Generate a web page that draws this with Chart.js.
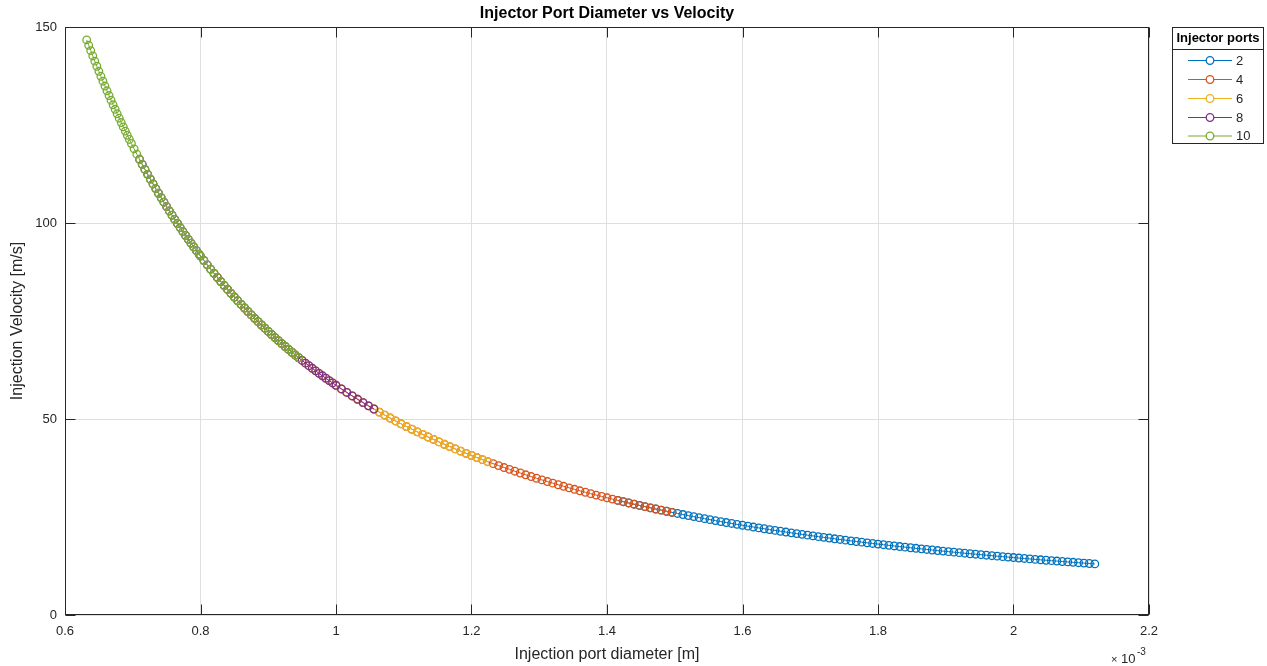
<!DOCTYPE html>
<html><head><meta charset="utf-8">
<script src="https://cdn.jsdelivr.net/npm/chart.js@4.4.1/dist/chart.umd.min.js"></script>
<style>html,body{margin:0;padding:0;background:#fff;overflow:hidden}canvas{display:block}</style>
</head><body>
<canvas id="c" width="1267" height="666"></canvas>
<script>
// Legend entries (number of injector ports) and their diameter ranges (x 10^-3 m)
const portCounts = [2, 4, 6, 8, 10];
const seriesColors = ['#0072BD', '#D95319', '#EDB120', '#7E2F8E', '#77AC30'];
const diameterMin = [1.414, 1.000, 0.816, 0.707, 0.632];
const diameterMax = [2.121, 1.500, 1.225, 1.061, 0.949];

// Points: injection port diameter (x 10^-3 m)
const diameter = [
0.632,0.635,0.638,0.641,0.644,0.647,0.650,0.653,0.656,0.659,0.662,0.665,0.668,0.671,0.674,0.677,0.680,0.683,0.686,0.689,0.692,0.695,0.698,
0.702,0.706,0.710,0.714,0.718,0.722,0.726,0.730,0.734,0.738,0.742,0.746,0.750,0.754,0.758,0.762,0.766,0.770,0.774,0.778,0.782,0.786,0.790,0.794,0.798,
0.800,0.805,0.810,0.815,0.820,0.825,0.830,0.835,0.840,0.845,0.850,0.855,0.860,0.865,0.870,0.875,0.880,0.885,0.890,0.895,
0.900,0.905,0.910,0.915,0.920,0.925,0.930,0.935,0.940,0.945,0.950,0.955,0.960,0.965,0.970,0.975,0.980,0.985,0.990,0.995,
1.000,1.008,1.016,1.024,1.032,1.040,1.048,1.056,1.064,1.072,
1.080,1.088,1.096,1.104,1.112,1.120,1.128,1.136,1.144,1.152,
1.160,1.168,1.176,1.184,1.192,1.200,1.208,1.216,1.224,1.232,
1.240,1.248,1.256,1.264,1.272,1.280,1.288,1.296,1.304,1.312,
1.320,1.328,1.336,1.344,1.352,1.360,1.368,1.376,1.384,1.392,
1.400,1.408,1.416,1.424,1.432,1.440,1.448,1.456,1.464,1.472,
1.480,1.488,1.496,1.504,1.512,1.520,1.528,1.536,1.544,1.552,
1.560,1.568,1.576,1.584,1.592,1.600,1.608,1.616,1.624,1.632,
1.640,1.648,1.656,1.664,1.672,1.680,1.688,1.696,1.704,1.712,
1.720,1.728,1.736,1.744,1.752,1.760,1.768,1.776,1.784,1.792,
1.800,1.808,1.816,1.824,1.832,1.840,1.848,1.856,1.864,1.872,
1.880,1.888,1.896,1.904,1.912,1.920,1.928,1.936,1.944,1.952,
1.960,1.968,1.976,1.984,1.992,2.000,2.008,2.016,2.024,2.032,
2.040,2.048,2.056,2.064,2.072,2.080,2.088,2.096,2.104,2.112,
2.120
];
// Injection velocity (m/s) at those diameters
const velocity = [
146.71,145.33,143.97,142.62,141.29,139.99,138.70,137.43,136.17,134.94,133.72,132.51,131.32,130.15,129.00,127.86,126.73,125.62,124.52,123.44,122.37,121.32,120.28,
118.91,117.57,116.25,114.95,113.67,112.41,111.18,109.96,108.77,107.59,106.44,105.30,104.18,103.08,101.99,100.92,99.87,98.84,97.82,96.81,95.83,94.85,93.89,92.95,92.02,
91.56,90.43,89.32,88.22,87.15,86.10,85.06,84.05,83.05,82.07,81.11,80.16,79.23,78.32,77.42,76.54,75.67,74.82,73.98,73.16,
72.35,71.55,70.77,69.99,69.24,68.49,67.75,67.03,66.32,65.62,64.93,64.25,63.59,62.93,62.28,61.64,61.02,60.40,59.79,59.19,
58.60,57.67,56.77,55.88,55.02,54.18,53.36,52.55,51.76,50.99,
50.24,49.50,48.78,48.08,47.39,46.72,46.06,45.41,44.78,44.16,
43.55,42.96,42.37,41.80,41.24,40.69,40.16,39.63,39.11,38.61,
38.11,37.62,37.15,36.68,36.22,35.77,35.32,34.89,34.46,34.04,
33.63,33.23,32.83,32.44,32.06,31.68,31.31,30.95,30.59,30.24,
29.90,29.56,29.23,28.90,28.58,28.26,27.95,27.64,27.34,27.04,
26.75,26.47,26.18,25.91,25.63,25.36,25.10,24.84,24.58,24.33,
24.08,23.83,23.59,23.35,23.12,22.89,22.66,22.44,22.22,22.00,
21.79,21.58,21.37,21.16,20.96,20.76,20.57,20.37,20.18,19.99,
19.81,19.63,19.44,19.27,19.09,18.92,18.75,18.58,18.41,18.25,
18.09,17.93,17.77,17.61,17.46,17.31,17.16,17.01,16.87,16.72,
16.58,16.44,16.30,16.16,16.03,15.90,15.76,15.63,15.51,15.38,
15.25,15.13,15.01,14.89,14.77,14.65,14.53,14.42,14.31,14.19,
14.08,13.97,13.86,13.76,13.65,13.54,13.44,13.34,13.24,13.14,
13.04
];

const xTicks = [0.6, 0.8, 1.0, 1.2, 1.4, 1.6, 1.8, 2.0, 2.2];
const xTickLabels = ['0.6', '0.8', '1', '1.2', '1.4', '1.6', '1.8', '2', '2.2'];
const yTicks = [0, 50, 100, 150];
const yTickLabels = ['0', '50', '100', '150'];

const FONT = "'Liberation Sans', Arial, Helvetica, sans-serif";
const TXT = '#262626';

const datasets = portCounts.map((n, i) => ({
  label: String(n),
  data: diameter.map((d, j) => ({ x: d, y: velocity[j] }))
               .filter(p => p.x >= diameterMin[i] - 1e-9 && p.x <= diameterMax[i] + 1e-9),
  showLine: true,
  borderColor: seriesColors[i],
  borderWidth: 1,
  pointRadius: 3.8,
  pointHoverRadius: 3.8,
  pointBorderWidth: 1.3,
  pointBorderColor: seriesColors[i],
  pointBackgroundColor: 'rgba(0,0,0,0)',
  fill: false,
  tension: 0,
  order: portCounts.length - i
}));

const decor = {
  id: 'decor',
  afterDraw(chart) {
    const ctx = chart.ctx;
    const a = chart.chartArea;
    const xs = chart.scales.x, ys = chart.scales.y;
    ctx.save();
    // axes box
    ctx.strokeStyle = TXT;
    ctx.lineWidth = 1;
    const L = Math.round(a.left) + 0.5, R = Math.round(a.right) - 0.5;
    const T = Math.round(a.top) + 0.5, B = Math.round(a.bottom) - 0.5;
    ctx.strokeRect(L, T, R - L, B - T);
    // inward tick marks
    const tl = 10;
    ctx.beginPath();
    xTicks.forEach(v => {
      const px = Math.round(xs.getPixelForValue(v)) + 0.5;
      ctx.moveTo(px, B); ctx.lineTo(px, B - tl);
      ctx.moveTo(px, T); ctx.lineTo(px, T + tl);
    });
    yTicks.forEach(v => {
      const py = Math.round(ys.getPixelForValue(v)) + 0.5;
      ctx.moveTo(L, py); ctx.lineTo(L + tl, py);
      ctx.moveTo(R, py); ctx.lineTo(R - tl, py);
    });
    ctx.stroke();

    // title
    ctx.fillStyle = '#000';
    ctx.font = 'bold 16px ' + FONT;
    ctx.textAlign = 'center';
    ctx.textBaseline = 'alphabetic';
    ctx.fillText('Injector Port Diameter vs Velocity', (a.left + a.right) / 2, 18);

    // exponent label
    ctx.fillStyle = TXT;
    ctx.textAlign = 'left';
    ctx.font = '11px ' + FONT;
    ctx.fillText('\u00D7', 1111, 663);
    ctx.font = '13px ' + FONT;
    ctx.fillText('10', 1121, 663);
    ctx.font = '10px ' + FONT;
    ctx.fillText('-3', 1137, 655);

    // legend
    const lx = 1172.5, ly = 27.5, lw = 91, lh = 116;
    ctx.fillStyle = '#fff';
    ctx.fillRect(lx, ly, lw, lh);
    ctx.strokeStyle = TXT;
    ctx.strokeRect(lx, ly, lw, lh);
    ctx.beginPath();
    ctx.moveTo(lx, 49.5); ctx.lineTo(lx + lw, 49.5);
    ctx.stroke();
    ctx.fillStyle = '#000';
    ctx.font = 'bold 13px ' + FONT;
    ctx.textAlign = 'center';
    ctx.textBaseline = 'middle';
    ctx.fillText('Injector ports', lx + lw / 2, 38.5);
    const rows = [60.5, 79.5, 98.5, 117.5, 136];
    portCounts.forEach((n, i) => {
      const y = rows[i];
      ctx.strokeStyle = seriesColors[i];
      ctx.lineWidth = 1;
      ctx.beginPath();
      ctx.moveTo(1188, y); ctx.lineTo(1232, y);
      ctx.stroke();
      ctx.beginPath();
      ctx.arc(1210, y, 3.8, 0, Math.PI * 2);
      ctx.fillStyle = '#fff';
      ctx.fill();
      ctx.lineWidth = 1.3;
      ctx.stroke();
      ctx.fillStyle = TXT;
      ctx.font = '13px ' + FONT;
      ctx.textAlign = 'left';
      ctx.fillText(String(n), 1236, y + 0.5);
    });
    ctx.restore();
  }
};

new Chart(document.getElementById('c'), {
  type: 'scatter',
  data: { datasets },
  options: {
    responsive: false,
    animation: false,
    devicePixelRatio: 1,
    layout: { padding: { left: 0, top: 27, right: 118, bottom: 0 } },
    plugins: { legend: { display: false }, title: { display: false }, tooltip: { enabled: false } },
    events: [],
    scales: {
      x: {
        type: 'linear', min: 0.6, max: 2.2,
        afterFit: s => { s.height = 51; },
        afterBuildTicks: s => { s.ticks = xTicks.map(v => ({ value: v })); },
        ticks: { callback: (v, i) => xTickLabels[i], font: { family: FONT, size: 13 }, color: TXT, padding: 9, maxRotation: 0, autoSkip: false },
        grid: { color: '#dfdfdf', lineWidth: 1, drawTicks: false },
        border: { display: false },
        title: { display: true, text: 'Injection port diameter [m]', font: { family: FONT, size: 16 }, color: TXT, padding: { top: 0, bottom: 2 } }
      },
      y: {
        type: 'linear', min: 0, max: 150,
        afterFit: s => { s.width = 65; },
        afterBuildTicks: s => { s.ticks = yTicks.map(v => ({ value: v })); },
        ticks: { callback: (v, i) => yTickLabels[i], font: { family: FONT, size: 13 }, color: TXT, padding: 8, autoSkip: false },
        grid: { color: '#dfdfdf', lineWidth: 1, drawTicks: false },
        border: { display: false },
        title: { display: true, text: 'Injection Velocity [m/s]', font: { family: FONT, size: 16 }, color: TXT, padding: { top: 8, bottom: 0 } }
      }
    }
  },
  plugins: [decor]
});
</script>
</body></html>
